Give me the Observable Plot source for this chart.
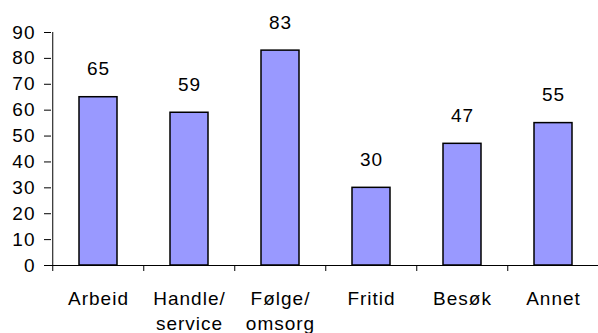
<!DOCTYPE html>
<html>
<head>
<meta charset="utf-8">
<script src="https://cdn.jsdelivr.net/npm/d3@7"></script>
<script src="https://cdn.jsdelivr.net/npm/@observablehq/plot@0.6"></script>
<style>
  body { margin: 0; background: #fff; }
  svg { font-family: "Liberation Sans", Arial, sans-serif; }
  svg text { letter-spacing: 1px; }
</style>
</head>
<body>
<div id="chart"></div>
<script>
// Trip purposes and their values
const categories = ["Arbeid", "Handle/\nservice", "Følge/\nomsorg", "Fritid", "Besøk", "Annet"];
const values = [65, 59, 83, 30, 47, 55];
const yTicks = [0, 10, 20, 30, 40, 50, 60, 70, 80, 90];

const data = categories.map((c, i) => ({category: c, value: values[i]}));

// Layout
const chartW = 598, chartH = 333;
const mLeft = 51, mTop = 32, mBottom = 68, xEnd = 600;
const halfStep = (xEnd - mLeft) / categories.length / 2;
const fs = 19;

const chart = Plot.plot({
  width: chartW,
  height: chartH,
  marginLeft: mLeft,
  marginRight: 0,
  marginTop: mTop,
  marginBottom: mBottom,
  style: {background: "#fff", color: "#000", fontSize: fs + "px", overflow: "visible"},
  x: {domain: categories, range: [mLeft, xEnd], paddingInner: 0.58, paddingOuter: 0.29},
  y: {domain: [0, 90]},
  marks: [
    Plot.barY(data, {x: "category", y: "value", fill: "#9999FF", stroke: "#000", strokeWidth: 1.5}),
    Plot.text(data, {x: "category", y: "value", text: d => String(d.value), lineAnchor: "bottom", dy: -22, fontSize: fs, fill: "#000"}),
    Plot.axisY({ticks: yTicks, tickSize: 7, tickPadding: 9, fontSize: fs, label: null, stroke: "#000"}),
    // category boundary ticks
    Plot.axisX({tickSize: 6, tickFormat: () => "", dx: -halfStep, label: null, stroke: "#000"}),
    // category labels
    Plot.axisX({tickSize: 0, tickPadding: 21, fontSize: fs, lineHeight: 1.35, label: null}),
    Plot.ruleY([0], {stroke: "#000"}),
    Plot.ruleX([categories[0]], {dx: -halfStep, stroke: "#000"})
  ]
});
document.getElementById("chart").append(chart);
</script>
</body>
</html>
